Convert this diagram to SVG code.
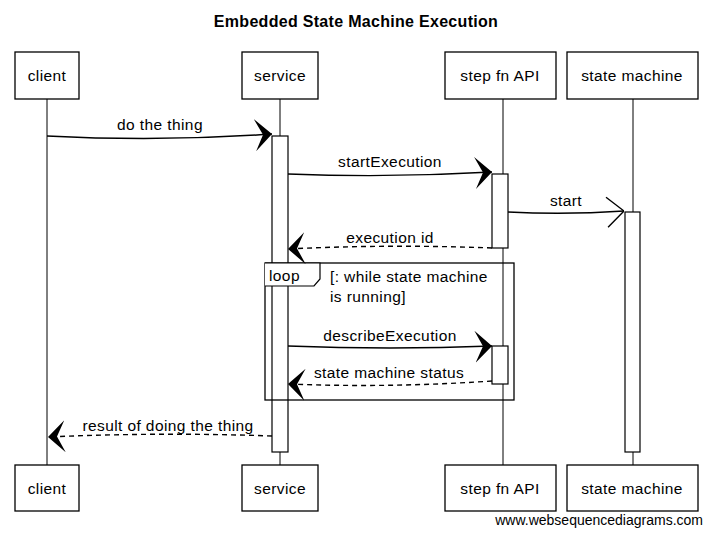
<svg xmlns="http://www.w3.org/2000/svg" width="712" height="535" viewBox="0 0 712 535">
<style>
.box{fill:#fff;stroke:#000;stroke-width:1.3}
.life{stroke:#000;stroke-width:1;fill:none}
.act{fill:#fff;stroke:#000;stroke-width:1.2}
.msg{stroke:#000;stroke-width:1.4;fill:none}
.dash{stroke-dasharray:5,4}
.t{font-family:"Liberation Sans",Arial,sans-serif;font-size:15.5px;letter-spacing:0.4px;fill:#000}
.c{text-anchor:middle}
</style>
<defs>
<marker id="fa" markerUnits="userSpaceOnUse" viewBox="0 0 17 32" refX="17" refY="16" markerWidth="17" markerHeight="32" orient="auto">
<path d="M0,0 L17,16 L0,32 L8,16 Z" fill="#000"/>
</marker>
<marker id="oa" markerUnits="userSpaceOnUse" viewBox="0 0 18 32" refX="18" refY="16" markerWidth="18" markerHeight="32" orient="auto">
<path d="M1,1 L18,16 L1,31" fill="none" stroke="#000" stroke-width="1.4"/>
</marker>
</defs>
<rect width="712" height="535" fill="#fff"/>
<text x="356" y="27" text-anchor="middle" style="font-family:'Liberation Sans',Arial,sans-serif;font-weight:bold;font-size:16px;letter-spacing:0.3px;fill:#000">Embedded State Machine Execution</text>

<g id="lifelines">
<line class="life" x1="47" y1="99" x2="47" y2="465"/>
<line class="life" x1="280" y1="99" x2="280" y2="465"/>
<line class="life" x1="503" y1="99" x2="503" y2="465"/>
<line class="life" x1="633" y1="99" x2="633" y2="465"/>
</g>

<g id="client-top"><rect class="box" x="15" y="52" width="64" height="47"/><text class="t c" x="47" y="81">client</text></g>
<g id="service-top"><rect class="box" x="242" y="52" width="76" height="47"/><text class="t c" x="280" y="81">service</text></g>
<g id="stepfn-top"><rect class="box" x="445" y="52" width="111" height="47"/><text class="t c" x="500" y="81">step fn API</text></g>
<g id="sm-top"><rect class="box" x="567" y="52" width="131" height="47"/><text class="t c" x="632" y="81">state machine</text></g>

<g id="activations">
<rect class="act" x="272" y="136" width="16" height="316"/>
<rect class="act" x="492" y="174" width="16" height="74"/>
<rect class="act" x="492" y="346" width="16" height="38"/>
<rect class="act" x="625" y="212" width="15" height="240"/>
</g>

<g id="loop">
<rect x="265" y="263" width="249" height="137" fill="none" stroke="#000" stroke-width="1.3"/>
<path d="M265,263 L320,263 L320,279 L314,286 L265,286" fill="#fff" stroke="#000" stroke-width="1.2"/>
<text class="t" x="269" y="281">loop</text>
<text class="t" x="330" y="282">[: while state machine</text>
<text class="t" x="330" y="302">is running]</text>
</g>

<g id="connectors">
<path class="msg" d="M47,136 Q160,142 272,134" marker-end="url(#fa)"/>
<text class="t c" x="160" y="130">do the thing</text>
<path class="msg" d="M288,174 Q390,178 492,172" marker-end="url(#fa)"/>
<text class="t c" x="390" y="167">startExecution</text>
<path class="msg" d="M508,212 Q566,215 624,211" marker-end="url(#oa)"/>
<text class="t c" x="566" y="206">start</text>
<path class="msg dash" d="M492,248 Q390,244 288,249" marker-end="url(#fa)"/>
<text class="t c" x="390" y="243">execution id</text>
<path class="msg" d="M288,346 Q390,350 492,346" marker-end="url(#fa)"/>
<text class="t c" x="390" y="341">describeExecution</text>
<path class="msg dash" d="M492,381 Q390,388 288,384" marker-end="url(#fa)"/>
<text class="t c" x="389" y="378">state machine status</text>
<path class="msg dash" d="M272,436 Q160,432 48,437" marker-end="url(#fa)"/>
<text class="t c" x="168" y="431">result of doing the thing</text>
</g>

<g id="client-bottom"><rect class="box" x="15" y="465" width="64" height="46"/><text class="t c" x="47" y="494">client</text></g>
<g id="service-bottom"><rect class="box" x="242" y="465" width="76" height="46"/><text class="t c" x="280" y="494">service</text></g>
<g id="stepfn-bottom"><rect class="box" x="445" y="465" width="111" height="46"/><text class="t c" x="500" y="494">step fn API</text></g>
<g id="sm-bottom"><rect class="box" x="567" y="465" width="131" height="46"/><text class="t c" x="632" y="494">state machine</text></g>

<text x="703" y="525" text-anchor="end" style="font-family:'Liberation Sans',Arial,sans-serif;font-size:14px;fill:#000">www.websequencediagrams.com</text>
</svg>
